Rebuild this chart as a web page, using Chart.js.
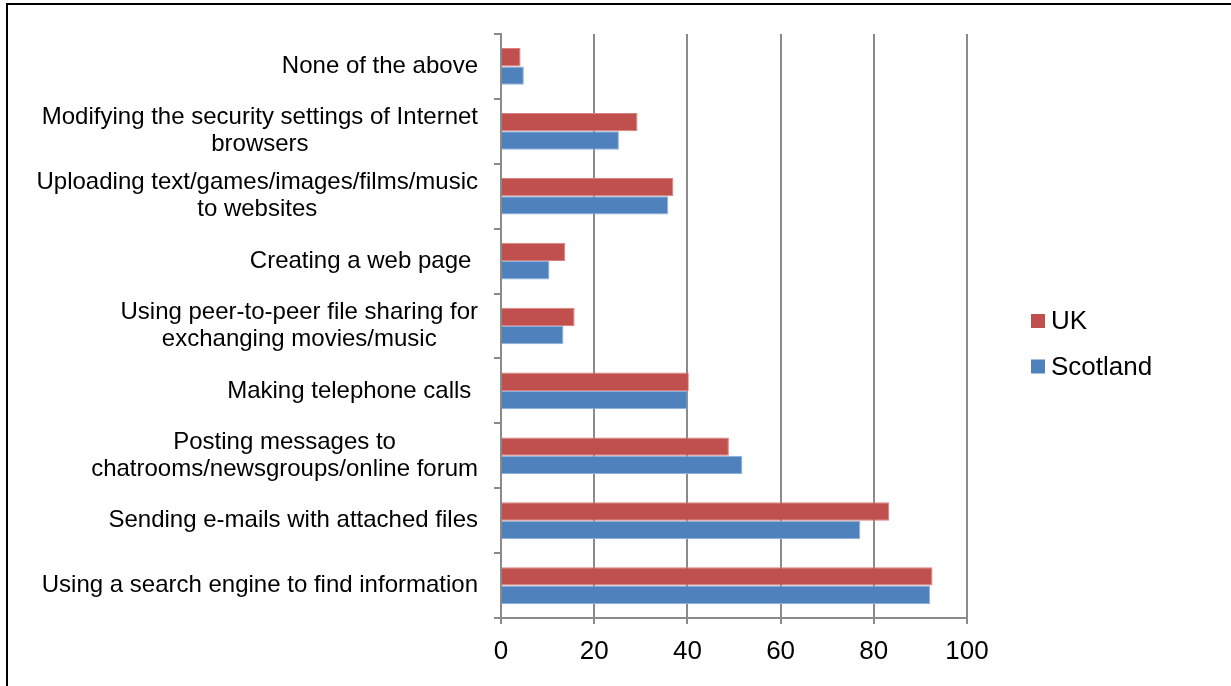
<!DOCTYPE html>
<html>
<head>
<meta charset="utf-8">
<script src="https://cdn.jsdelivr.net/npm/chart.js@4.4.0/dist/chart.umd.min.js"></script>
<style>
  html, body { margin: 0; padding: 0; background: #fff; }
  #wrap { position: relative; width: 1231px; height: 686px; overflow: hidden; }
  #frame { position: absolute; left: 6px; top: 3px; right: -10px; bottom: -10px;
           border-left: 2px solid #000; border-top: 2px solid #000; }
  canvas { position: absolute; left: 0; top: 0; }
</style>
</head>
<body>
<div id="wrap">
  <div id="frame"></div>
  <canvas id="grafico" width="1231" height="686"></canvas>
</div>
<script>
// categorias (de arriba hacia abajo) y valores
const categorias = [
  'None of the above',
  ['Modifying the security settings of Internet', 'browsers'],
  ['Uploading text/games/images/films/music', 'to websites'],
  'Creating a web page ',
  ['Using peer-to-peer file sharing for', 'exchanging movies/music'],
  'Making telephone calls ',
  ['Posting messages to', 'chatrooms/newsgroups/online forum'],
  'Sending e-mails with attached files',
  'Using a search engine to find information'
];
const valoresUK = [4.2, 29.3, 37.0, 13.8, 15.8, 40.3, 48.9, 83.3, 92.6];
const valoresEscocia = [4.9, 25.3, 35.9, 10.4, 13.4, 40.0, 51.8, 77.1, 92.1];
const marcasX = [0, 20, 40, 60, 80, 100];

const fuente = '"Liberation Sans", Arial, sans-serif';
const gris = '#8a8a8a';

// etiquetas del eje de categorias (centradas entre lineas) y leyenda
const etiquetasPlugin = {
  id: 'etiquetas',
  afterDraw(chart) {
    const ctx = chart.ctx;
    const escala = chart.scales.y;
    ctx.save();
    ctx.fillStyle = '#000';
    ctx.font = '24px ' + fuente;
    ctx.textBaseline = 'middle';
    ctx.textAlign = 'center';
    const derecha = chart.chartArea.left - 23;
    categorias.forEach((cat, i) => {
      const lineas = Array.isArray(cat) ? cat : [cat];
      const ancho = Math.max(...lineas.map(l => ctx.measureText(l).width));
      const cx = derecha - ancho / 2;
      const yc = escala.getPixelForValue(i);
      lineas.forEach((l, j) => {
        ctx.fillText(l, cx, yc + (j - (lineas.length - 1) / 2) * 27);
      });
    });

    // leyenda a la derecha
    ctx.textAlign = 'left';
    ctx.font = '26px ' + fuente;
    chart.data.datasets.forEach((ds, k) => {
      const y = 321 + k * 45.5;
      ctx.fillStyle = ds.backgroundColor;
      ctx.fillRect(1031, y - 7, 14, 14);
      ctx.fillStyle = '#000';
      ctx.fillText(ds.label, 1051, y + 1);
    });
    ctx.restore();
  }
};

const ctx = document.getElementById('grafico').getContext('2d');
const chart = new Chart(ctx, {
  type: 'bar',
  data: {
    labels: categorias,
    datasets: [{
      label: 'UK',
      data: valoresUK,
      backgroundColor: '#C0504D',
      borderColor: '#D9817E',
      borderWidth: 1
    }, {
      label: 'Scotland',
      data: valoresEscocia,
      backgroundColor: '#4F81BD',
      borderColor: '#8DB0DC',
      borderWidth: 1
    }]
  },
  options: {
    indexAxis: 'y',
    responsive: false,
    animation: false,
    datasets: {
      bar: { barPercentage: 1, categoryPercentage: 0.565 }
    },
    layout: { padding: { left: 6, top: 34, right: 264, bottom: 0 } },
    plugins: {
      legend: { display: false },
      tooltip: { enabled: false }
    },
    scales: {
      x: {
        min: 0,
        max: 100,
        afterBuildTicks(scale) {
          scale.ticks = marcasX.map(v => ({ value: v }));
        },
        afterFit(scale) { scale.height = 68; },
        grid: { color: gris, lineWidth: 2, tickLength: 6 },
        border: { color: gris, width: 2 },
        ticks: {
          color: '#000',
          padding: 12,
          font: { family: fuente, size: 26 }
        }
      },
      y: {
        afterFit(scale) { scale.width = 495; },
        grid: { offset: true, drawOnChartArea: false, color: gris, lineWidth: 2, tickLength: 7 },
        border: { color: gris, width: 2 },
        ticks: { display: false }
      }
    }
  },
  plugins: [etiquetasPlugin]
});
</script>
</body>
</html>
